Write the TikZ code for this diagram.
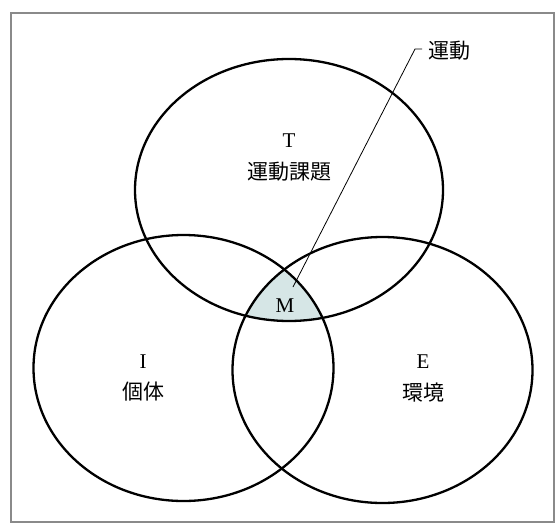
\documentclass[tikz,border=0pt]{standalone}
\usepackage{fontspec}
\setmainfont{Liberation Serif}
\newfontfamily\jp{Noto Sans CJK JP}
\definecolor{mfill}{HTML}{D6E6E6}
\definecolor{framec}{HTML}{8A8A8A}
\tikzset{
  venn/.style={line width=2.3pt, draw=black},
  frameline/.style={line width=1.3pt, draw=framec},
  letter/.style={font=\fontsize{21}{21}\selectfont, inner sep=0pt},
  jlabel/.style={font=\jp\fontsize{21}{21}\selectfont, inner sep=0pt},
  leader/.style={line width=0.8pt, draw=black}
}
\begin{document}
\begin{tikzpicture}[x=1pt,y=-1pt]
\useasboundingbox (0,0) rectangle (556,524);
\draw[frameline] (11,13) rectangle (554,522);
% shaded intersection
\begin{scope}
  \clip (289,190) ellipse [x radius=154, y radius=131];
  \clip (183.5,368) ellipse [x radius=150, y radius=133];
  \fill[mfill] (382.5,370) ellipse [x radius=150, y radius=133];
\end{scope}
% ellipses
\draw[venn] (289,190) ellipse [x radius=154, y radius=131];
\draw[venn] (183.5,368) ellipse [x radius=150, y radius=133];
\draw[venn] (382.5,370) ellipse [x radius=150, y radius=133];
% labels
\node[letter] (T) at (289,141) {T};
\node[jlabel] (Tj) at (289,172) {運動課題};
\node[letter] (I) at (143,362) {I};
\node[jlabel] (Ij) at (143,392) {個体};
\node[letter] (E) at (423,362) {E};
\node[jlabel] (Ej) at (423,393) {環境};
\node[letter] (M) at (285,306) {M};
\node[jlabel, anchor=west] (mv) at (428,51) {運動};
% leader
\coordinate (k1) at (422,49);
\coordinate (k2) at (415,49);
\coordinate (tip) at (293,287);
\draw[leader] (k1) -- (k2) -- (tip);
\end{tikzpicture}
\end{document}
